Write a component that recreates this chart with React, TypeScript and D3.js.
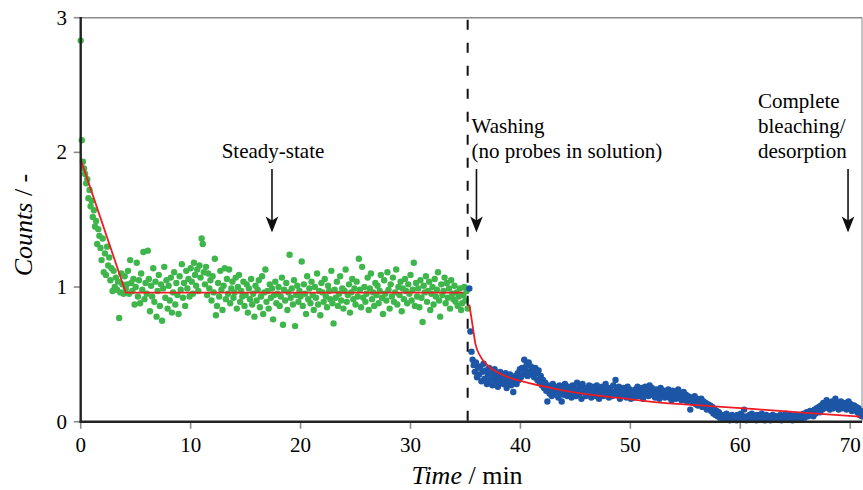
import React from 'react';
import * as d3 from 'd3';

// Sampling of the time series (min)
const greenStart = 0;
const greenStep = 0.1;
// Counts during adsorption / steady state (green)
const greenCounts = [
  2.83, 2.09, 1.93, 1.88, 1.84, 1.77, 1.80, 1.66, 1.72, 1.60,
  1.64, 1.52, 1.57, 1.45, 1.49, 1.32, 1.43, 1.38, 1.29, 1.20,
  1.36, 1.11, 1.25, 1.09, 1.30, 1.16, 1.22, 1.05, 1.14, 0.97,
  1.12, 1.00, 1.07, 0.98, 1.04, 0.77, 0.96, 1.10, 1.02, 0.95,
  1.08, 0.99, 1.02, 1.12, 0.95, 1.20, 1.03, 0.97, 1.06, 0.87,
  1.00, 1.18, 0.93, 1.05, 0.88, 1.10, 0.98, 1.26, 0.91, 1.03,
  0.95, 1.27, 1.06, 0.82, 1.01, 0.93, 1.14, 0.89, 1.04, 0.78,
  0.97, 1.09, 0.86, 1.02, 0.75, 0.99, 1.15, 0.92, 1.05, 0.84,
  1.01, 0.90, 1.07, 0.81, 0.96, 1.11, 0.87, 1.03, 0.94, 0.80,
  1.08, 0.98, 1.17, 0.92, 1.03, 0.86, 1.12, 0.99, 1.06, 0.93,
  1.14, 1.04, 0.95, 1.18, 1.09, 1.01, 1.13, 0.97, 1.16, 1.07,
  1.36, 1.32, 1.11, 1.02, 1.15, 0.94, 1.10, 0.99, 1.05, 0.90,
  1.08, 0.96, 1.21, 0.79, 0.86, 1.03, 0.93, 1.12, 0.98, 0.83,
  1.01, 1.14, 0.91, 1.06, 0.95, 1.13, 0.88, 0.99, 1.04, 0.92,
  0.96, 1.07, 0.84, 1.00, 1.09, 0.89, 0.97, 0.93, 1.04, 0.86,
  0.94, 1.02, 0.81, 0.99, 0.91, 1.06, 0.87, 0.95, 0.78, 1.01,
  0.90, 0.98, 1.05, 0.85, 0.93, 1.08, 0.80, 0.96, 1.13, 0.89,
  0.97, 0.84, 1.02, 0.92, 0.99, 0.76, 0.94, 1.04, 0.88, 0.95,
  1.00, 0.86, 0.93, 1.07, 0.72, 0.98, 0.90, 1.03, 0.83, 0.96,
  1.24, 0.92, 0.99, 0.87, 1.05, 0.71, 0.94, 1.01, 0.89, 0.97,
  0.93, 1.19, 0.86, 1.02, 0.95, 0.80, 1.08, 0.91, 0.99, 0.88,
  1.04, 0.94, 0.83, 1.00, 0.92, 1.10, 0.87, 0.97, 0.79, 1.03,
  0.96, 0.89, 1.06, 0.93, 0.85, 1.01, 0.97, 0.91, 1.12, 0.88,
  0.73, 0.98, 0.92, 1.04, 0.86, 0.95, 1.08, 0.90, 0.99, 0.84,
  0.97, 1.13, 0.89, 0.94, 1.02, 0.81, 0.96, 1.06, 0.91, 0.99,
  0.87, 1.04, 0.93, 1.21, 0.98, 0.85, 1.15, 0.92, 1.00, 0.89,
  0.95, 1.07, 0.83, 0.99, 1.10, 0.91, 0.96, 0.86, 1.03, 0.94,
  1.01, 0.88, 0.97, 1.09, 0.92, 0.80, 1.05, 0.95, 0.90, 1.11,
  0.98, 0.84, 1.02, 0.93, 1.07, 0.89, 0.96, 1.13, 0.87, 1.00,
  0.94, 1.04, 0.82, 0.99, 0.91, 1.06, 0.97, 0.88, 1.02, 0.95,
  1.09, 0.90, 0.98, 1.18, 0.86, 1.03, 0.93, 0.99, 0.85, 1.05,
  0.92, 0.74, 1.01, 0.96, 1.08, 0.89, 0.97, 1.04, 0.83, 0.95,
  1.00, 0.87, 1.06, 0.93, 0.98, 1.11, 0.90, 0.78, 1.02, 0.94,
  0.97, 1.07, 0.88, 1.03, 0.92, 0.99, 0.84, 1.05, 0.95, 0.91,
  1.01, 0.89, 0.96, 0.86, 0.93, 0.99, 0.83, 0.88, 0.94, 1.00,
  0.90, 0.97, 0.84,
];

const blueStart = 35.35;
const blueStep = 0.1;
// Counts during washing (blue)
const blueCounts = [
  0.99, 0.67, 0.52, 0.46, 0.42, 0.37, 0.44, 0.33, 0.40, 0.35,
  0.41, 0.30, 0.37, 0.43, 0.32, 0.38, 0.28, 0.35, 0.40, 0.31,
  0.36, 0.27, 0.33, 0.39, 0.30, 0.35, 0.26, 0.32, 0.37, 0.29,
  0.34, 0.28, 0.31, 0.36, 0.25, 0.33, 0.29, 0.35, 0.27, 0.32,
  0.22, 0.30, 0.34, 0.28, 0.36, 0.31, 0.39, 0.33, 0.40, 0.35,
  0.46, 0.38, 0.42, 0.34, 0.44, 0.37, 0.41, 0.35, 0.39, 0.33,
  0.40, 0.36, 0.31, 0.38, 0.29, 0.34, 0.27, 0.31, 0.25, 0.29,
  0.23, 0.15, 0.27, 0.21, 0.25, 0.19, 0.28, 0.22, 0.26, 0.20,
  0.24, 0.18, 0.27, 0.22, 0.15, 0.25, 0.20, 0.28, 0.23, 0.19,
  0.26, 0.21, 0.24, 0.18, 0.27, 0.22, 0.25, 0.19, 0.29, 0.23,
  0.20, 0.26, 0.17, 0.28, 0.22, 0.25, 0.19, 0.24, 0.21, 0.27,
  0.23, 0.18, 0.26, 0.21, 0.24, 0.19, 0.27, 0.22, 0.17, 0.25,
  0.21, 0.26, 0.19, 0.23, 0.28, 0.20, 0.24, 0.18, 0.25, 0.22,
  0.19, 0.27, 0.22, 0.31, 0.24, 0.20, 0.26, 0.17, 0.23, 0.21,
  0.25, 0.19, 0.23, 0.18, 0.26, 0.21, 0.24, 0.17, 0.22, 0.20,
  0.18, 0.24, 0.21, 0.26, 0.19, 0.23, 0.20, 0.25, 0.17, 0.22,
  0.26, 0.21, 0.24, 0.19, 0.27, 0.22, 0.25, 0.20, 0.23, 0.18,
  0.24, 0.20, 0.22, 0.17, 0.25, 0.21, 0.19, 0.23, 0.18, 0.22,
  0.20, 0.24, 0.18, 0.21, 0.16, 0.23, 0.19, 0.22, 0.17, 0.20,
  0.24, 0.18, 0.21, 0.16, 0.19, 0.22, 0.17, 0.20, 0.15, 0.19,
  0.17, 0.09, 0.18, 0.14, 0.16, 0.19, 0.13, 0.17, 0.12, 0.15,
  0.14, 0.17, 0.11, 0.15, 0.12, 0.14, 0.09, 0.13, 0.10, 0.12,
  0.08, 0.11, 0.06, 0.09, 0.05, 0.08, 0.04, 0.07, 0.03, 0.05,
  0.03, 0.05, 0.02, 0.04, 0.06, 0.02, 0.04, 0.01, 0.03, 0.05,
  0.02, 0.04, 0.03, 0.01, 0.05, 0.02, 0.03, 0.06, 0.02, 0.04,
  0.09, 0.03, 0.01, 0.04, 0.02, 0.05, 0.03, 0.06, 0.02, 0.04,
  0.03, 0.01, 0.05, 0.02, 0.04, 0.03, 0.06, 0.02, 0.04, 0.01,
  0.05, 0.03, 0.02, 0.04, 0.01, 0.03, 0.05, 0.02, 0.04, 0.03,
  0.02, 0.04, 0.03, 0.05, 0.01, 0.03, 0.02, 0.04, 0.06, 0.03,
  0.04, 0.02, 0.05, 0.03, 0.01, 0.04, 0.02, 0.05, 0.03, 0.04,
  0.03, 0.05, 0.02, 0.04, 0.06, 0.03, 0.05, 0.07, 0.04, 0.06,
  0.08, 0.05, 0.07, 0.04, 0.09, 0.06, 0.10, 0.08, 0.11, 0.07,
  0.12, 0.09, 0.14, 0.10, 0.13, 0.16, 0.11, 0.14, 0.09, 0.12,
  0.15, 0.10, 0.13, 0.17, 0.11, 0.14, 0.09, 0.12, 0.15, 0.10,
  0.13, 0.11, 0.14, 0.09, 0.12, 0.15, 0.10, 0.13, 0.08, 0.11,
  0.12, 0.09, 0.11, 0.07, 0.10, 0.05, 0.08, 0.04,
];

// Fit curves (red)
const fitGreenTime = [0, 4.1, 34.8];
const fitGreenCounts = [1.948, 0.958, 0.958];
const fitBlueTime = [35.35, 35.6, 35.9, 36.4, 37.0, 38.2, 39.7, 42.8, 45.8, 48.8, 52.7, 57, 61.4, 66, 70.9];
const fitBlueCounts = [0.87, 0.74, 0.58, 0.48, 0.42, 0.354, 0.31, 0.25, 0.206, 0.178, 0.142, 0.118, 0.093, 0.065, 0.037];

const xTicks = [0, 10, 20, 30, 40, 50, 60, 70];
const yTicks = [0, 1, 2, 3];
const washTime = 35.2;

// Annotations: arrow time, label lines, text anchor
const annTimes = [17.4, 36.0, 69.8];
const annLines = [["Steady-state"], ["Washing", "(no probes in solution)"], ["Complete", "bleaching/", "desorption"]];
const annTextX = [273, 471.5, 758];
const annAnchor = ["middle", "start", "start"];
const annFirstBaseline = [158, 133, 108];

const TS = { fontFamily: "'Liberation Serif', monospace" };

export default function App() {
  const W = 863, H = 490;
  const L = 80.7, R = 862, T = 17.7, B = 421.7;
  const x = d3.scaleLinear().domain([0, 71.07]).range([L, R]);
  const y = d3.scaleLinear().domain([0, 3]).range([B, T]);

  const green = greenCounts.map((v, i) => [greenStart + i * greenStep, v]);
  const blue = blueCounts.map((v, i) => [blueStart + i * blueStep, v]);
  const line = d3.line<number[]>().x(d => x(d[0])).y(d => y(d[1]));
  const lineSmooth = d3.line<number[]>().x(d => x(d[0])).y(d => y(d[1])).curve(d3.curveMonotoneX);
  const fitG = fitGreenTime.map((t, i) => [t, fitGreenCounts[i]]);
  const fitB = fitBlueTime.map((t, i) => [t, fitBlueCounts[i]]);

  const green_c = '#3fb64b';
  const blue_c = '#1d56a6';
  const red_c = '#ed1c24';

  const arrowTop = 169, arrowTip = 232.5;

  return (
    <svg width={W} height={H} style={{ position: 'absolute', left: 0, top: 0 }}>
      {/* texts first */}
      {xTicks.map(t => (
        <text key={'xl' + t} x={x(t)} y={452} fontSize={21} textAnchor="middle" style={TS}>{t}</text>
      ))}
      {yTicks.map(v => (
        <text key={'yl' + v} x={67} y={y(v) + 7} fontSize={21} textAnchor="end" style={TS}>{v}</text>
      ))}
      {annTimes.map((t, i) => annLines[i].map((s, j) => (
        <text key={'an' + i + '-' + j} x={annTextX[i]} y={annFirstBaseline[i] + j * 25} fontSize={21} textAnchor={annAnchor[i] as any} style={TS}>{s}</text>
      )))}
      <text x={467} y={484} fontSize={26} textAnchor="middle" style={TS}>
        <tspan fontStyle="italic">Time</tspan> / min
      </text>
      <text transform={`translate(32,225) rotate(-90)`} fontSize={26} textAnchor="middle" style={TS}>
        <tspan fontStyle="italic">Counts</tspan> / -
      </text>
      {/* frame */}
      <line x1={L} x2={R} y1={T} y2={T} stroke="#8a8a8a" strokeWidth={1.6} />
      <line x1={R} x2={R} y1={T} y2={B} stroke="#8a8a8a" strokeWidth={1} />
      {xTicks.map(t => (
        <line key={'xt' + t} x1={x(t)} x2={x(t)} y1={B} y2={B + 7} stroke="#8a8a8a" strokeWidth={1.6} />
      ))}
      {yTicks.map(v => (
        <line key={'yt' + v} x1={L - 7} x2={L} y1={y(v)} y2={y(v)} stroke="#8a8a8a" strokeWidth={1.6} />
      ))}
      {/* points */}
      {green.map((d, i) => (
        <circle key={'g' + i} cx={x(d[0])} cy={y(d[1])} r={3.2} fill={green_c} />
      ))}
      {blue.map((d, i) => (
        <circle key={'b' + i} cx={x(d[0])} cy={y(d[1])} r={3.2} fill={blue_c} />
      ))}
      {/* fits */}
      <path d={line(fitG) || ''} fill="none" stroke={red_c} strokeWidth={1.8} />
      <path d={lineSmooth(fitB) || ''} fill="none" stroke={red_c} strokeWidth={1.8} />
      {/* washing start */}
      <line x1={x(washTime)} x2={x(washTime)} y1={T + 2} y2={B} stroke="#111" strokeWidth={2} strokeDasharray="10,13" />
      {/* axes */}
      <line x1={L} x2={L} y1={T - 0.8} y2={B + 1.2} stroke="#222" strokeWidth={2.4} />
      <line x1={L - 1} x2={R} y1={B} y2={B} stroke="#222" strokeWidth={2.4} />
      {/* arrows */}
      {annTimes.map((t, i) => {
        const ax = x(t);
        return (
          <g key={'a' + i}>
            <line x1={ax} x2={ax} y1={arrowTop} y2={arrowTip - 10} stroke="#111" strokeWidth={1.6} />
            <path d={`M${ax},${arrowTip} L${ax - 6.3},${arrowTip - 16} L${ax},${arrowTip - 12} L${ax + 6.3},${arrowTip - 16} Z`} fill="#111" />
          </g>
        );
      })}
    </svg>
  );
}
